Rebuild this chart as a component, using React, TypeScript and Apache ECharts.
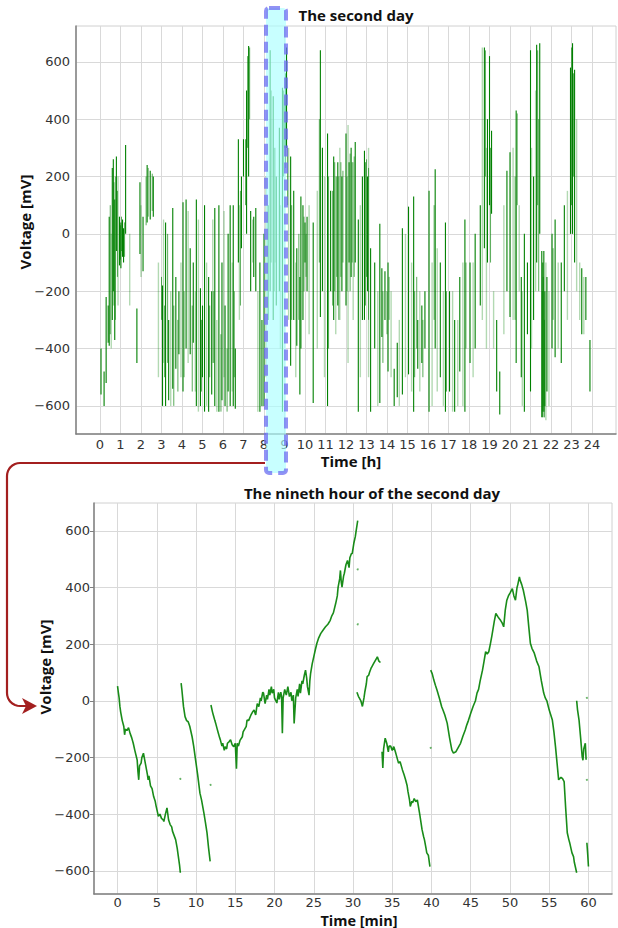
import React, { useEffect, useRef } from "react";
import * as echarts from "echarts";

// ---------- tick labels ----------
const hourTicks = [0, 1, 2, 3, 4, 5, 6, 7, 8, 9, 10, 11, 12, 13, 14, 15, 16, 17, 18, 19, 20, 21, 22, 23, 24];
const minuteTicks = [0, 5, 10, 15, 20, 25, 30, 35, 40, 45, 50, 55, 60];
const voltTicks = [-600, -400, -200, 0, 200, 400, 600];

// ---------- top chart: the second day, vertical sweeps [hour, low mV, high mV] ----------
const dayStrokesDark: number[][] = [
  [0.05, -560, -400], [0.2, -600, -480], [0.3, -520, -220], [0.4, -380, -250], [0.45, -390, 60],
  [0.6, -300, 230], [0.65, -200, 260], [0.72, -370, 120], [0.8, -60, 270], [0.95, -110, 60],
  [1.02, -120, 40], [1.1, -80, 50], [1.15, -100, 20], [1.25, 0, 310], [1.8, -450, -260],
  [1.95, -70, 180], [2.1, -130, 60], [2.3, 40, 240], [2.45, 50, 220], [2.6, 60, 200],
  [3.05, -600, -180], [3.2, -600, 40], [3.35, -580, -300], [3.55, -540, 90], [3.7, -470, -150],
  [3.85, -420, -200], [4.05, -550, 110], [4.2, -400, 120], [4.4, -420, -50], [4.55, -380, -100],
  [4.7, -600, 120], [4.9, -600, -190], [5.0, -500, -250], [5.1, -620, 100], [5.3, -620, -150],
  [5.45, -560, -200], [5.6, -600, 90], [5.8, -620, 100], [5.95, -580, -100], [6.1, -600, -250],
  [6.25, -550, 0], [6.35, -600, 100], [6.5, -600, 100], [6.6, -610, -400], [6.75, -100, 330],
  [6.9, -50, 200], [7.0, 200, 330], [7.15, 0, 500], [7.25, 200, 655], [7.35, -200, 80],
  [7.5, -150, 60], [7.6, -200, 90], [7.8, -620, -100], [7.9, -600, -300], [8.0, -600, 0],
  [8.2, -300, 100], [8.3, -200, 640], [8.45, -300, 480], [8.6, -250, 200], [8.75, -200, 370],
  [8.9, -620, 510], [9.05, 230, 560], [9.1, 300, 650], [9.3, -460, 270], [9.45, -300, 150],
  [9.6, -390, -50], [9.75, -560, -150], [9.8, -400, 130], [9.9, -300, 100], [10.0, -100, 40],
  [10.1, -200, 60], [10.4, -590, 40], [10.75, -290, 640], [10.85, -200, 300], [11.1, -600, 350],
  [11.25, -200, 150], [11.4, -300, 270], [11.6, -250, 250], [11.8, -200, 200], [12.0, -250, 350],
  [12.15, -100, 250], [12.25, -150, 300], [12.45, -100, 320], [12.6, -620, 50], [12.8, -300, 200],
  [12.9, -300, 290], [13.05, -200, 200], [13.2, -620, -50], [13.4, -400, -100], [13.65, -590, 35],
  [13.75, -360, -120], [13.9, -300, -130], [14.05, -480, -100], [14.35, -600, -470], [14.5, -570, -380],
  [14.75, -560, 20], [15.05, -490, 95], [15.3, -620, 130], [15.5, -470, -300], [15.7, -450, -250],
  [15.85, -400, -200], [16.05, -620, 150], [16.35, -400, 225], [16.6, -500, -100], [16.85, -620, 40],
  [17.05, -550, -200], [17.3, -620, -300], [17.55, -480, -150], [17.8, -620, 50], [18.05, -450, -100],
  [18.3, -400, 0], [18.55, -250, 100], [18.75, -50, 650], [18.9, -100, 400], [19.0, 100, 620],
  [19.1, 70, 360], [19.35, -550, -300], [19.5, -630, -480], [19.85, -200, 220], [20.0, -290, 285],
  [20.3, -450, 430], [20.55, -500, -150], [20.7, -620, 0], [20.85, -350, -100], [21.0, -550, 640],
  [21.15, -300, 200], [21.3, -100, 660], [21.45, 0, 665], [21.55, -640, -60], [21.6, -640, -100],
  [21.65, -620, -60], [21.7, -600, -200], [21.8, -550, -150], [22.05, -400, 0], [22.2, -430, 50],
  [22.5, -450, -100], [22.65, -200, 100], [22.95, 0, 580], [23.05, 0, 665], [23.15, -100, 572],
  [23.5, -350, -120], [23.7, -300, -150], [23.9, -550, -370],
];

const dayStrokesMid: number[][] = [
  [0.5, -350, 100], [0.68, -250, 180], [0.75, -300, 200], [0.85, -150, 150], [1.0, -90, 30],
  [1.05, -60, 60], [1.2, -80, 40], [2.25, 30, 200], [2.35, 60, 230], [2.55, 80, 210],
  [3.0, -300, -150], [3.15, -500, -250], [3.3, -450, 0], [3.6, -600, -250], [3.8, -550, -300],
  [4.1, -500, -200], [4.5, -550, -250], [4.95, -550, -300], [5.35, -500, -250], [5.55, -450, -200],
  [5.9, -620, -350], [6.2, -620, -400], [6.55, -500, -200], [6.85, -250, 150], [7.1, 100, 330],
  [7.2, 300, 620], [7.3, 400, 650], [8.35, -100, 500], [8.5, -200, 300], [8.95, 200, 500],
  [9.0, 300, 480], [9.15, 100, 300], [9.35, -300, 100], [9.7, -300, 0], [9.95, -200, 60],
  [10.05, -150, 0], [10.7, -100, 400], [11.15, -400, 200], [11.35, -250, 150], [11.45, -200, 250],
  [11.55, -150, 200], [11.65, -300, 200], [11.75, -150, 250], [11.85, -100, 220], [12.05, -200, 200],
  [12.2, -200, 280], [12.3, -100, 250], [12.4, -150, 270], [12.95, -250, 250], [13.0, -150, 260],
  [13.1, -300, 230], [13.8, -450, -200], [14.0, -350, -200], [14.1, -300, -150], [15.35, -500, -200],
  [15.45, -400, -150], [15.75, -500, -300], [16.3, -300, 100], [16.9, -550, -200], [17.85, -400, -100],
  [18.8, 200, 640], [19.05, -100, 300], [20.25, -300, 200], [20.35, 100, 420], [21.35, 100, 640],
  [21.4, -200, 400], [21.58, -620, -200], [21.62, -600, -150], [21.68, -640, -300], [22.1, -300, -50],
  [23.0, 100, 650], [23.1, 200, 560],
];

const dayStrokesLight: number[][] = [
  [0.55, -400, 0], [0.88, -250, 200], [1.45, -250, 0], [2.0, -150, 100], [2.85, -500, -100],
  [3.1, -450, 50], [3.45, -600, -200], [3.95, -500, -100], [4.3, -450, 80], [4.65, -550, -200],
  [4.8, -620, 50], [5.2, -600, -100], [5.5, -450, 50], [5.7, -620, -300], [6.05, -500, 80],
  [6.45, -550, -100], [6.8, -300, 100], [7.45, -100, 50], [7.7, -620, -200], [8.1, -500, 200],
  [8.55, -100, 300], [8.8, -400, 100], [9.2, -300, 300], [9.55, -500, -100], [10.2, -350, 100],
  [10.6, -400, 150], [10.95, -500, 200], [11.5, -350, 200], [11.7, -300, 300], [12.1, -450, 380],
  [12.35, -300, 250], [12.7, -500, 100], [13.1, -500, 300], [13.55, -600, -200], [14.2, -500, -200],
  [14.6, -600, -300], [14.9, -500, 0], [15.2, -550, -100], [15.6, -550, -200], [16.2, -600, -100],
  [16.45, -550, -50], [16.75, -600, -200], [17.2, -620, -200], [17.45, -600, -300], [17.7, -600, -100],
  [18.2, -500, -100], [18.65, -300, 650], [18.85, -400, 300], [19.2, -400, -200], [19.7, -350, 100],
  [20.15, -300, 300], [20.45, -200, 100], [20.6, -600, -200], [21.05, -400, 300], [21.25, -200, 500],
  [21.75, -650, -100], [21.9, -600, -200], [22.35, -400, -100], [22.8, -300, 150], [23.25, -200, 400],
  [23.4, -300, -100], [23.6, -350, -150],
];

// ---------- bottom chart: the ninth hour, traces [minute, mV] ----------
const hourSeg1 = [
  [0, 52], [0.1, 30], [0.2, 10], [0.3, -20], [0.4, -40], [0.6, -70], [0.8, -91], [0.9, -120], [1.0, -100],
  [1.2, -105], [1.4, -95], [1.6, -115], [1.8, -130], [2.0, -150], [2.2, -175], [2.5, -209], [2.6, -250],
  [2.7, -279], [2.8, -230], [3.0, -220], [3.1, -200], [3.3, -185], [3.4, -200], [3.6, -230], [3.8, -260],
  [3.9, -279], [4.0, -265], [4.2, -300], [4.4, -310], [4.6, -338], [4.8, -355], [4.9, -370], [5.1, -395],
  [5.2, -408], [5.4, -400], [5.6, -415], [5.8, -420], [5.9, -426], [6.1, -400], [6.3, -378], [6.5, -420],
  [6.7, -437], [6.9, -445], [7.0, -460], [7.2, -475], [7.4, -490], [7.6, -520], [7.7, -540], [7.9, -580],
  [8.0, -607],
];
const hourSeg2 = [
  [8.1, 62], [8.2, 38], [8.4, -20], [8.6, -56], [8.8, -70], [9.0, -74], [9.2, -90], [9.5, -127],
  [9.7, -160], [10.0, -220], [10.2, -260], [10.5, -326], [10.7, -350], [11.0, -396], [11.2, -430],
  [11.4, -466], [11.6, -520], [11.8, -567],
];
const hourSeg3 = [
  [11.9, -15], [12.1, -40], [12.2, -50], [12.4, -70], [12.5, -79], [12.7, -100], [12.8, -110], [13.0, -130],
  [13.1, -138], [13.3, -160], [13.4, -150], [13.6, -175], [13.7, -162], [13.9, -170], [14.0, -150],
  [14.2, -145], [14.4, -138], [14.6, -155], [14.8, -162], [15.0, -150], [15.15, -240], [15.25, -150],
  [15.4, -160], [15.6, -140], [15.9, -127], [16.0, -110], [16.2, -100], [16.4, -90], [16.5, -68],
  [16.7, -70], [17.0, -50], [17.2, -40], [17.4, -33], [17.6, -50], [17.8, -10], [18.0, -21], [18.2, 10],
  [18.3, 0], [18.5, 30], [18.6, 27], [18.8, -10], [19.0, 20], [19.1, 5], [19.3, 40], [19.4, 20], [19.6, 50],
  [19.7, 27], [19.9, 40], [20.0, 10], [20.3, -8], [20.5, 30], [20.6, 5], [20.8, 30], [20.9, 15],
  [21.0, -115], [21.1, 10], [21.3, 40], [21.5, 20], [21.7, 50], [21.9, 15], [22.1, 30], [22.2, 0],
  [22.4, 20], [22.5, -80], [22.7, 10], [22.9, 40], [23.0, 15], [23.2, 60], [23.3, 27], [23.5, 70],
  [23.6, 60], [23.8, 90], [23.95, 108], [24.1, 80], [24.2, 49], [24.4, 20], [24.5, 70], [24.6, 97],
  [24.8, 130], [25.0, 155], [25.2, 180], [25.4, 203], [25.6, 220], [25.9, 238], [26.2, 250], [26.5, 261],
  [26.8, 270], [27.1, 284], [27.3, 300], [27.5, 310], [27.8, 344], [28.0, 370], [28.1, 400], [28.3, 430],
  [28.4, 460], [28.5, 420], [28.6, 401], [28.8, 440], [28.9, 450], [29.1, 480], [29.3, 495], [29.5, 470],
  [29.6, 505], [29.8, 520], [29.9, 519], [30.1, 555], [30.3, 580], [30.4, 600], [30.6, 636],
];
const hourSeg4 = [
  [30.5, 30], [30.7, 15], [30.8, 10], [31.0, 0], [31.2, -20], [31.4, 10], [31.5, 30], [31.7, 60],
  [31.8, 85], [32.0, 90], [32.1, 100], [32.3, 115], [32.4, 120], [32.6, 130], [32.8, 140], [33.0, 150],
  [33.1, 155], [33.3, 140], [33.5, 135],
];
const hourSeg5 = [
  [33.7, -180], [33.8, -237], [33.9, -170], [34.1, -132], [34.3, -150], [34.5, -180], [34.6, -160],
  [34.8, -160], [35.0, -175], [35.2, -162], [35.4, -180], [35.5, -190], [35.8, -220], [36.0, -215],
  [36.3, -244], [36.5, -260], [36.7, -279], [36.9, -300], [37.0, -320], [37.2, -350], [37.3, -373],
  [37.5, -355], [37.6, -360], [37.8, -345], [38.0, -356], [38.2, -350], [38.3, -367], [38.5, -400],
  [38.8, -455], [39.0, -480], [39.1, -490], [39.3, -520], [39.4, -537], [39.6, -545], [39.8, -585],
];
const hourSeg6 = [
  [39.9, 108], [40.1, 95], [40.3, 73], [40.5, 55], [40.7, 38], [41.0, 10], [41.3, -21], [41.5, -35],
  [41.7, -50], [42.0, -79], [42.3, -130], [42.5, -160], [42.6, -174], [42.8, -185], [43.1, -180],
  [43.4, -165], [43.7, -150], [44.0, -125], [44.3, -103], [44.5, -85], [44.7, -70], [45.0, -44],
  [45.3, -20], [45.6, 0], [45.8, 27], [46.0, 40], [46.2, 70], [46.5, 108], [46.7, 140], [46.9, 173],
  [47.1, 165], [47.3, 173], [47.5, 200], [47.7, 230], [48.0, 280], [48.2, 308], [48.5, 295],
  [48.8, 284], [49.0, 275], [49.2, 261], [49.4, 320], [49.6, 355], [49.8, 370], [50.0, 380],
  [50.3, 396], [50.5, 370], [50.7, 355], [50.9, 400], [51.0, 410], [51.2, 437], [51.3, 425],
  [51.5, 410], [51.7, 390], [52.0, 350], [52.2, 319], [52.4, 260], [52.6, 203], [52.8, 185],
  [53.1, 168], [53.4, 140], [53.7, 120], [54.0, 70], [54.3, 27], [54.5, 10], [54.7, 0], [55.0, -33],
  [55.2, -50], [55.4, -68], [55.6, -110], [55.8, -162], [56.0, -220], [56.2, -279], [56.5, -270],
  [56.7, -275], [56.9, -285], [57.1, -380], [57.3, -466], [57.5, -490], [57.6, -500], [57.9, -537],
  [58.1, -550], [58.2, -570], [58.5, -607],
];
const hourSeg7 = [
  [58.5, 0], [58.6, -30], [58.8, -68], [59.0, -130], [59.2, -197], [59.3, -210], [59.4, -170],
  [59.6, -150], [59.7, -208],
];
const hourSeg8 = [
  [59.8, -501], [59.9, -540], [60.0, -585],
];
const hourSegments = [hourSeg1, hourSeg2, hourSeg3, hourSeg4, hourSeg5, hourSeg6, hourSeg7, hourSeg8];
const hourDots = [
  [8.0, -276], [11.85, -297], [30.6, 464], [30.6, 270], [39.9, -166], [59.8, -279], [59.8, 10],
];

const GREEN = "#008000";
const RED = "#a31f1f";
const FONT = "DejaVu Sans";
const TITLE_FONT = "Open Sans";
const minus = (v: number) => String(v).replace("-", "\u2212");

// rounded corner points for the connector annotation
function cornerPts(cx: number, cy: number, r: number, a0: number, a1: number) {
  const pts: number[][] = [];
  for (let i = 0; i <= 8; i++) {
    const a = a0 + ((a1 - a0) * i) / 8;
    pts.push([cx + r * Math.cos(a), cy + r * Math.sin(a)]);
  }
  return pts;
}

export default function App() {
  const ref = useRef<HTMLDivElement>(null);

  useEffect(() => {
    if (!ref.current) return;
    const chart = echarts.init(ref.current, null, { renderer: "svg" });

    const strokeSeries = (data: number[][], color: string, width: number) => ({
      type: "custom",
      xAxisIndex: 0,
      yAxisIndex: 0,
      clip: true,
      silent: true,
      data,
      encode: { x: 0, y: [1, 2] },
      renderItem: (_p: any, api: any) => {
        const a = api.coord([api.value(0), api.value(1)]);
        const b = api.coord([api.value(0), api.value(2)]);
        return {
          type: "line",
          shape: { x1: a[0], y1: a[1], x2: b[0], y2: b[1] },
          style: { stroke: color, lineWidth: width },
        };
      },
    });

    const axisCommon = {
      type: "value",
      axisLine: { show: true, onZero: false, lineStyle: { color: "#808080", width: 1.5 } },
      axisTick: { show: false },
      splitLine: { show: true, lineStyle: { color: "#d9d9d9", width: 1 } },
      axisLabel: { color: "#333", fontFamily: FONT, fontSize: 13, formatter: minus, margin: 6 },
    };

    const text = (t: string, x: number, y: number, size: number, rot = 0) => ({
      type: "text",
      x,
      y,
      rotation: rot,
      silent: true,
      style: {
        text: t,
        fontFamily: TITLE_FONT,
        fontWeight: "bold",
        fontSize: size,
        fill: "#111",
        align: "center",
        verticalAlign: "middle",
      },
    });

    const connector = [
      [265, 463],
      ...cornerPts(20, 476, 13, -Math.PI / 2, -Math.PI),
      ...cornerPts(20, 693, 13, Math.PI, Math.PI / 2),
      [27, 706],
    ];

    const option: any = {
      animation: false,
      backgroundColor: "#fff",
      grid: [
        { left: 76, top: 26, width: 540, height: 408, show: true, borderColor: "#d0d0d0", borderWidth: 1 },
        { left: 94, top: 503, width: 518, height: 391, show: true, borderColor: "#d0d0d0", borderWidth: 1 },
      ],
      xAxis: [
        {
          ...axisCommon,
          gridIndex: 0,
          min: -1.17,
          max: 25.17,
          axisTick: { show: false, customValues: hourTicks },
          axisLabel: { ...axisCommon.axisLabel, customValues: hourTicks, margin: 4 },
        },
        {
          ...axisCommon,
          gridIndex: 1,
          min: -3,
          max: 63,
          axisTick: { show: false, customValues: minuteTicks },
          axisLabel: { ...axisCommon.axisLabel, customValues: minuteTicks, margin: 2 },
        },
      ],
      yAxis: [
        {
          ...axisCommon,
          gridIndex: 0,
          min: -698,
          max: 725,
          axisTick: { show: false, customValues: voltTicks },
          axisLabel: { ...axisCommon.axisLabel, customValues: voltTicks },
        },
        {
          ...axisCommon,
          gridIndex: 1,
          min: -682,
          max: 698,
          axisTick: { show: true, length: 4, lineStyle: { color: "#808080" }, customValues: voltTicks },
          axisLabel: { ...axisCommon.axisLabel, customValues: voltTicks, margin: 4 },
        },
      ],
      series: [
        strokeSeries(dayStrokesLight, "rgba(0,128,0,0.3)", 1.4),
        strokeSeries(dayStrokesMid, "rgba(0,128,0,0.65)", 1),
        strokeSeries(dayStrokesDark, GREEN, 1.1),
        ...hourSegments.map((seg) => ({
          type: "line",
          xAxisIndex: 1,
          yAxisIndex: 1,
          data: seg,
          showSymbol: false,
          symbol: "none",
          silent: true,
          lineStyle: { color: GREEN, width: 1.6, opacity: 0.9 },
        })),
        {
          type: "scatter",
          xAxisIndex: 1,
          yAxisIndex: 1,
          data: hourDots,
          symbolSize: 2,
          silent: true,
          itemStyle: { color: GREEN, opacity: 0.6 },
        },
      ],
      graphic: [
        text("The second day", 356, 15, 15),
        text("The nineth hour of the second day", 372, 493, 15),
        text("Time [h]", 351, 461, 15),
        text("Time [min]", 359, 920, 14.5),
        text("Voltage [mV]", 25, 222, 15, Math.PI / 2),
        text("Voltage [mV]", 45, 667, 15, Math.PI / 2),
        {
          type: "polyline",
          silent: true,
          z: 50,
          shape: { points: connector },
          style: { stroke: RED, lineWidth: 2.2, fill: null, lineJoin: "round" },
        },
        {
          type: "polygon",
          silent: true,
          z: 50,
          shape: { points: [[22, 698], [37, 706], [22, 714], [26, 706]] },
          style: { fill: RED },
        },
        {
          type: "rect",
          silent: true,
          z: 100,
          shape: { x: 266, y: 8, width: 20, height: 465, r: 3 },
          style: {
            fill: "rgba(170,255,255,0.65)",
            stroke: "rgba(110,110,240,0.75)",
            lineWidth: 4,
            lineDash: [11, 6],
          },
        },
      ],
    };

    chart.setOption(option);
    return () => chart.dispose();
  }, []);

  return <div ref={ref} style={{ position: "absolute", left: 0, top: 0, width: 618, height: 928 }} />;
}
